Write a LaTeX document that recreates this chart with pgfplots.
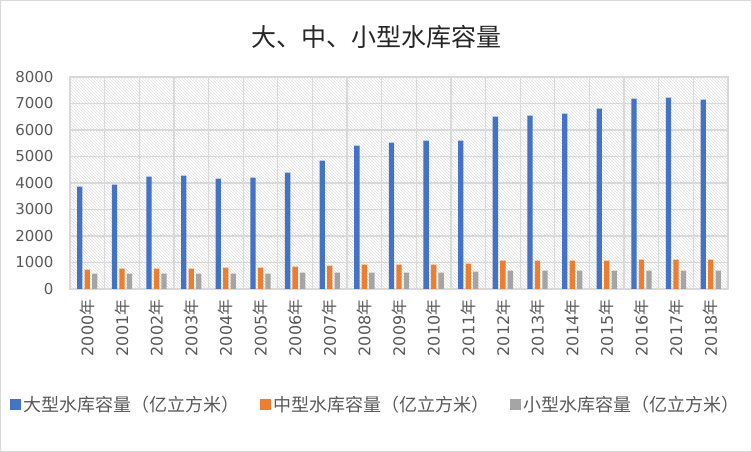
\documentclass[border=0pt]{standalone}
\usepackage{pgfplots}
\pgfplotsset{compat=1.18}
\usepackage{pgfplotstable}
\usepackage{fontspec}
\setmainfont{DejaVu Sans}
\newfontfamily\cjk{Noto Sans CJK SC}
\usetikzlibrary{patterns}
\definecolor{cblue}{HTML}{4472C4}
\definecolor{corange}{HTML}{ED7D31}
\definecolor{cgray}{HTML}{A5A5A5}
\definecolor{gridc}{HTML}{D9D9D9}
\definecolor{txt}{HTML}{595959}
\pgfplotstableread{
x large medium small
0 3862 730 579
1 3937 767 579
2 4239 767 579
3 4277 767 579
4 4164 805 579
5 4201 805 579
6 4390 843 616
7 4843 880 616
8 5409 918 616
9 5522 918 616
10 5597 918 616
11 5597 956 654
12 6503 1069 692
13 6541 1069 692
14 6616 1069 692
15 6805 1069 692
16 7182 1107 692
17 7220 1107 692
18 7145 1107 692
}\datatable
\newcommand{\lf}{\cjk\fontsize{18}{21}\selectfont\color{txt}}
\begin{document}
\begin{tikzpicture}[x=1pt,y=1pt]
\draw[gridc, line width=1.2pt] (0.6,0.6) rectangle (751.4,451.4);
\node[font=\cjk\fontsize{25}{29}\selectfont, text=black!85] at (376,415) {大、中、小型水库容量};
\begin{axis}[
  at={(70pt,163pt)}, anchor=south west,
  scale only axis, width=658pt, height=212pt,
  ybar=2.2pt, bar width=5.3pt,
  xmin=-0.5, xmax=18.5, ymin=0, ymax=8000,
  xtick={0,...,18},
  xticklabels={2000{\cjk 年},2001{\cjk 年},2002{\cjk 年},2003{\cjk 年},2004{\cjk 年},2005{\cjk 年},2006{\cjk 年},2007{\cjk 年},2008{\cjk 年},2009{\cjk 年},2010{\cjk 年},2011{\cjk 年},2012{\cjk 年},2013{\cjk 年},2014{\cjk 年},2015{\cjk 年},2016{\cjk 年},2017{\cjk 年},2018{\cjk 年}},
  minor xtick={0.5,1.5,...,17.5},
  ytick={0,1000,...,8000},
  major tick length=0pt, minor tick length=0pt,
  ymajorgrids, xminorgrids,
  grid style={gridc, line width=1.3pt},
  minor grid style={gridc, line width=1.3pt},
  axis line style={gridc, line width=1.3pt},
  axis background/.style={pattern=north west lines, pattern color=gray!25},
  /pgf/number format/assume math mode=true,
  /pgf/number format/set thousands separator={},
  ticklabel style={font=\fontsize{15}{18}\selectfont, text=txt},
  yticklabel style={xshift=-13pt},
  xticklabel style={rotate=90, anchor=east, xshift=-7pt, font=\fontsize{16}{19}\selectfont},
  legend style={at={(0.465,-0.547)}, anchor=center, draw=none, fill=none,
    legend columns=3, /tikz/every even column/.append style={column sep=19pt}},
  legend image code/.code={\fill[#1] (0pt,-5.5pt) rectangle (11pt,5.5pt);},
]
\addplot[fill=cblue, draw=none] table[x=x,y=large]{\datatable};
\addplot[fill=corange, draw=none] table[x=x,y=medium]{\datatable};
\addplot[fill=cgray, draw=none] table[x=x,y=small]{\datatable};
\legend{{\lf 大型水库容量（亿立方米）},{\lf 中型水库容量（亿立方米）},{\lf 小型水库容量（亿立方米）}}
\end{axis}
\end{tikzpicture}
\end{document}
